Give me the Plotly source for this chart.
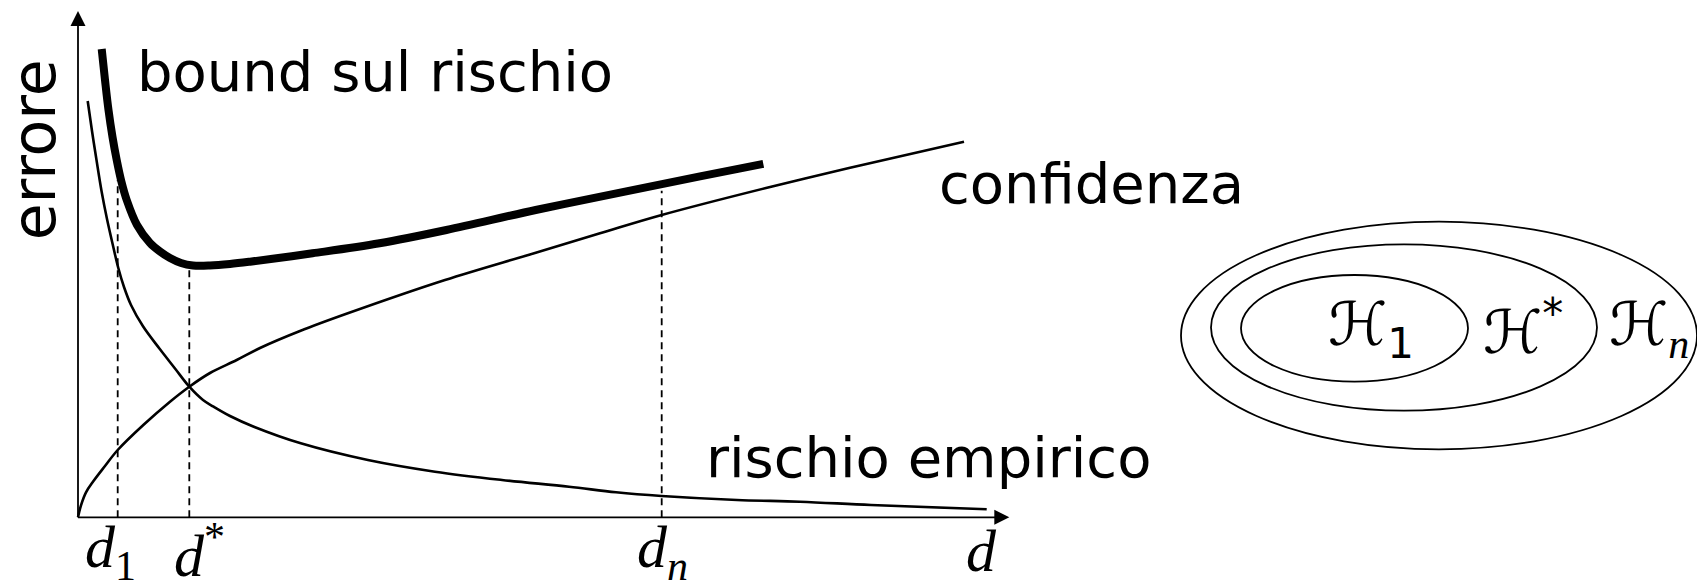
import plotly.graph_objects as go

# Model complexity d (x) against error (y); units are arbitrary, origin at the axis corner.
d_bound = [23.7, 27, 30.5, 34.5, 38.7, 43.5, 48.7, 59, 72, 82, 92, 103, 115, 132, 152, 172,
           234.5, 301.5, 368.4, 457.7, 547, 622, 685.3]
err_bound = [468.3, 437.3, 407.3, 380.3, 357.3, 335.3, 317.3, 292.3, 274.3, 265.8, 259.3, 254.3,
             251.8, 251.8, 253.3, 255.6, 264, 274, 287.3, 307.3, 325.6, 341, 353.5]

d_emp = [9.7, 14, 18.5, 23.7, 29, 35.3, 40.3, 46, 53, 65, 82, 97, 111.3, 125, 135.6, 152, 175.8,
         222.8, 289.9, 357, 424, 491, 538, 583.7, 659, 722, 793, 908.7]
err_emp = [416.3, 386.3, 357.3, 325.3, 298.3, 270.3, 249.3, 230.3, 212.3, 191, 168, 148.8,
           130.6, 117.3, 110.6, 101.3, 90.6, 74, 57.3, 45.6, 37.3, 30.6, 25, 21.3, 17.3, 15.6, 12.3, 8]

d_conf = [0, 3, 8, 15.3, 27, 39.7, 65.3, 92, 111.3, 132, 158.7, 182, 222, 269.8, 367, 452,
          522, 583.7, 688, 771, 886]
err_conf = [0, 12, 25, 36, 51.3, 67.3, 92.3, 115.6, 130.6, 144.3, 157.3, 169.3, 186.3, 204,
            237.3, 262.9, 284, 302.3, 329.3, 349.3, 375.6]

# Marked complexities and the height of their guide lines
d_marks = [39.7, 111.3, 583.7]
guide_top = [337.3, 247.3, 326.6]
mark_labels = ["<i>d</i><sub>1</sub>", "<i>d</i><sup>*</sup>", "<i>d</i><sub><i>n</i></sub>"]
mark_label_x = [32.6, 121, 584]

# Nested hypothesis spaces: centre x, centre y, half-width, half-height
SUB_N = "<span style='font-family:Liberation Serif'><i>n</i></span>"
space_labels = ["ℋ<sub>1</sub>", "ℋ<sup>*</sup>", "ℋ<sub>" + SUB_N + "</sub>"]
space_label_x = [1293, 1445, 1571]
space_cx = [1276.5, 1326, 1361]
space_cy = [189, 189.8, 181.8]
space_rx = [113.5, 193, 258]
space_ry = [53.3, 83.2, 113.8]

x_end = 931.3
y_end = 506.3

INK = "black"
SANS = "DejaVu Sans"
SERIF = "Liberation Serif"

fig = go.Figure()

# axes with arrow tips
fig.add_trace(go.Scatter(x=[0, 0], y=[0, y_end - 8], mode="lines",
                         line=dict(color=INK, width=1.8), hoverinfo="skip"))
fig.add_trace(go.Scatter(x=[0, x_end - 8], y=[0, 0], mode="lines",
                         line=dict(color=INK, width=1.8), hoverinfo="skip"))
fig.add_trace(go.Scatter(x=[0], y=[y_end], mode="markers",
                         marker=dict(symbol="arrow-up", size=15, color=INK, line=dict(width=0)),
                         hoverinfo="skip"))
fig.add_trace(go.Scatter(x=[x_end], y=[0], mode="markers",
                         marker=dict(symbol="arrow-right", size=15, color=INK, line=dict(width=0)),
                         hoverinfo="skip"))

# dashed guides at the marked complexities
for dm, top in zip(d_marks, guide_top):
    fig.add_trace(go.Scatter(x=[dm, dm], y=[0, top], mode="lines",
                             line=dict(color=INK, width=1.8, dash="7px,5px"), hoverinfo="skip"))

# curves
fig.add_trace(go.Scatter(x=d_emp, y=err_emp, mode="lines", line=dict(color=INK, width=2.6, shape="spline"),
                         name="rischio empirico"))
fig.add_trace(go.Scatter(x=d_conf, y=err_conf, mode="lines", line=dict(color=INK, width=2.6, shape="spline"),
                         name="confidenza"))
fig.add_trace(go.Scatter(x=d_bound, y=err_bound, mode="lines", line=dict(color=INK, width=8, shape="spline"),
                         name="bound sul rischio"))

# nested ellipses
for cx, cy, rx, ry in zip(space_cx, space_cy, space_rx, space_ry):
    fig.add_shape(type="circle", xref="x", yref="y", x0=cx - rx, x1=cx + rx, y0=cy - ry, y1=cy + ry,
                  line=dict(color=INK, width=1.8))

ann = []
txt = dict(family=SANS, size=56, color=INK)
ann.append(dict(x=57, y=446, text="bound sul rischio", xanchor="left", yanchor="middle", font=txt))
ann.append(dict(x=859, y=334, text="confidenza", xanchor="left", yanchor="middle", font=txt))
ann.append(dict(x=626, y=60, text="rischio empirico", xanchor="left", yanchor="middle", font=txt))
ann.append(dict(x=-44, y=367, text="errore", textangle=-90, xanchor="center", yanchor="middle",
                font=dict(family=SANS, size=60, color=INK)))

mfont = dict(family=SERIF, size=60, color=INK)
for lx, lab in zip(mark_label_x, mark_labels):
    ann.append(dict(x=lx, y=-34, text=lab, xanchor="center", yanchor="middle", font=mfont))
ann.append(dict(x=903, y=-34, text="<i>d</i>", xanchor="center", yanchor="middle", font=mfont))

hfont = dict(family="DejaVu Sans", size=60, color=INK)
for lx, lab in zip(space_label_x, space_labels):
    ann.append(dict(x=lx, y=189.3, text=lab, xanchor="center", yanchor="middle", font=hfont))

for a in ann:
    a.update(xref="x", yref="y", showarrow=False)

fig.update_layout(
    width=1697, height=582,
    margin=dict(l=0, r=0, t=0, b=0),
    paper_bgcolor="white", plot_bgcolor="white",
    showlegend=False,
    annotations=ann,
    xaxis=dict(range=[-78, 1619], visible=False, fixedrange=True),
    yaxis=dict(range=[-64.7, 517.3], visible=False, fixedrange=True),
)

fig.write_html("out.html")
